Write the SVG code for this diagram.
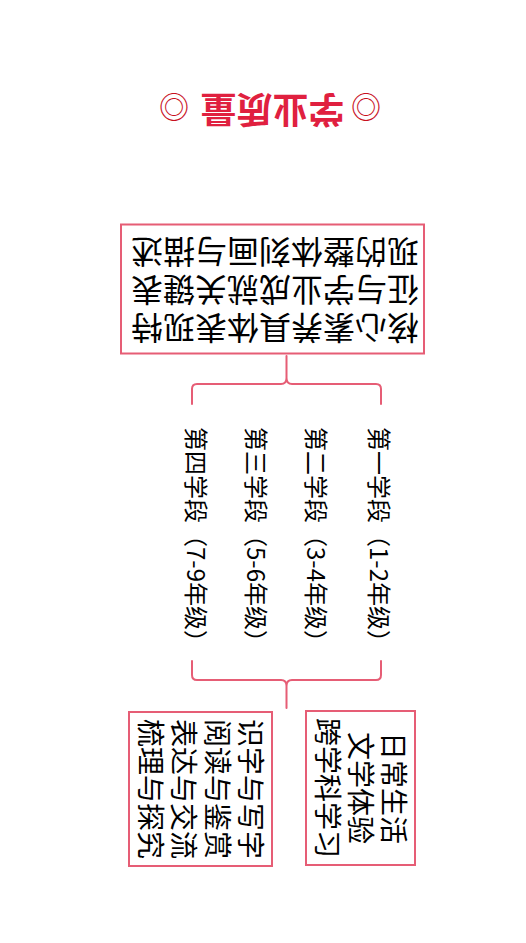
<svg xmlns="http://www.w3.org/2000/svg" width="526" height="943" viewBox="0 0 526 943">
<style>
.t{font-family:"Noto Sans CJK SC","Noto Sans",sans-serif;fill:#000}
.box{fill:#fff;stroke:#e65d75;stroke-width:2}
.br{fill:none;stroke:#e65d75;stroke-width:2;stroke-linecap:round;stroke-linejoin:round}
</style>
<rect width="526" height="943" fill="#fff"/>
<g id="title" transform="rotate(180 271 109)">
<text class="t" font-size="36" font-weight="bold" text-anchor="middle" y="122.5"><tspan x="176" fill="#c8101e" font-size="30" font-weight="normal">◎</tspan><tspan x="269.6" fill="#e0203f">学业质量</tspan><tspan x="368" fill="#c8101e" font-size="30" font-weight="normal">◎</tspan></text>
</g>
<g id="connectors">
<path class="br" d="M192,404 V389 Q192,384 197,384 H281 Q286.5,384 286.5,378 V356 M286.5,378 Q286.5,384 292,384 H376 Q381,384 381,389 V404"/>
<path class="br" d="M192,661 V675 Q192,680 197,680 H281 Q286.5,680 286.5,686 V708 M286.5,686 Q286.5,680 292,680 H376 Q381,680 381,675 V661"/>
</g>
<g id="root">
<rect class="box" x="121" y="224.5" width="303" height="129"/>
<g transform="rotate(180 275 290)">
<text class="t" font-size="32" text-anchor="middle"><tspan x="275" y="264.2">核心素养具体表现特</tspan><tspan x="275" y="302.2">征与学业成就关键表</tspan><tspan x="275" y="340.2">现的整体刻画与描述</tspan></text>
</g>
</g>
<g id="stage1"><text class="t" font-size="24" transform="translate(379 427) rotate(90)" x="0" y="9.1">第一学段（1-2年级）</text></g>
<g id="stage2"><text class="t" font-size="24" transform="translate(316 427) rotate(90)" x="0" y="9.1">第二学段（3-4年级）</text></g>
<g id="stage3"><text class="t" font-size="24" transform="translate(256 427) rotate(90)" x="0" y="9.1">第三学段（5-6年级）</text></g>
<g id="stage4"><text class="t" font-size="24" transform="translate(196 427) rotate(90)" x="0" y="9.1">第四学段（7-9年级）</text></g>
<g id="contexts">
<rect class="box" x="306" y="711" width="109" height="154"/>
<g transform="translate(0 788) rotate(90)">
<text class="t" font-size="28" text-anchor="middle"><tspan x="0" y="-383.4">日常生活</tspan><tspan x="0" y="-350.4">文学体验</tspan><tspan x="0" y="-317.4">跨学科学习</tspan></text>
</g>
</g>
<g id="practices">
<rect class="box" x="129" y="712" width="143" height="154"/>
<g transform="translate(0 789) rotate(90)">
<text class="t" font-size="28" text-anchor="middle"><tspan x="0" y="-240">识字与写字</tspan><tspan x="0" y="-206.5">阅读与鉴赏</tspan><tspan x="0" y="-173">表达与交流</tspan><tspan x="0" y="-139.5">梳理与探究</tspan></text>
</g>
</g>
</svg>
